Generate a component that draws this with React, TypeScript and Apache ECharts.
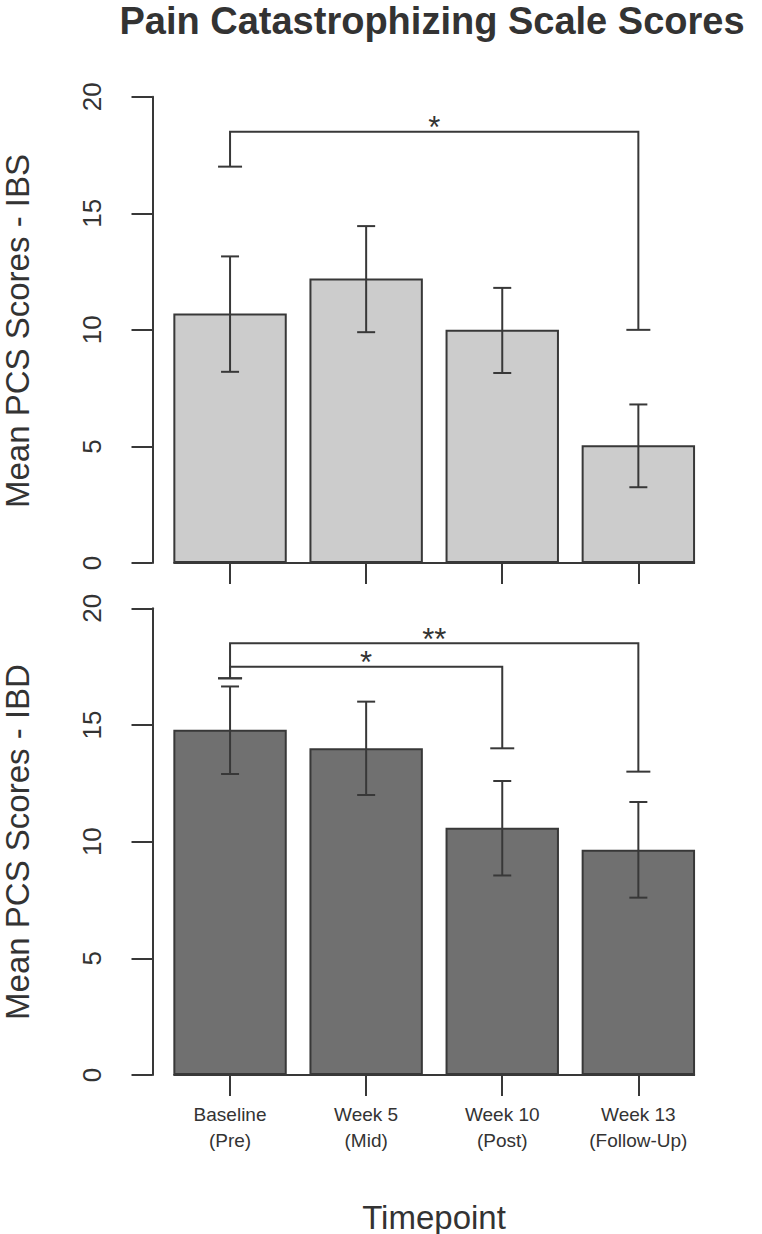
import React, { useEffect, useRef } from 'react';
import * as echarts from 'echarts';

// ---------- data ----------
const categories = ['Baseline\n(Pre)', 'Week 5\n(Mid)', 'Week 10\n(Post)', 'Week 13\n(Follow-Up)'];
const yTicks = [0, 5, 10, 15, 20];

const ibsMeans = [10.7, 12.2, 10.0, 5.05];
const ibsLower = [8.2, 9.9, 8.15, 3.25];
const ibsUpper = [13.15, 14.45, 11.8, 6.8];

const ibdMeans = [14.8, 14.0, 10.6, 9.65];
const ibdLower = [12.9, 12.0, 8.55, 7.6];
const ibdUpper = [16.65, 16.0, 12.6, 11.7];

// brackets: [fromIndex, toIndex, topValue, leftEndValue, rightEndValue]
const ibsBrackets = [[0, 3, 18.5, 17, 10]];
const ibsBracketLabels = ['*'];
const ibdBrackets = [
  [0, 3, 18.5, 17, 13],
  [0, 2, 17.5, 17, 14],
];
const ibdBracketLabels = ['**', '*'];

// ---------- styling ----------
const FONT = 'Liberation Sans, Arial, Helvetica, sans-serif';
const INK = '#383838';
const TEXT = '#333333';
const BAR_RATIO = 1 / 1.2;
const LW = 2;

function zeroLineSeries(idx: number) {
  return {
    type: 'custom',
    xAxisIndex: idx,
    yAxisIndex: idx,
    z: 1,
    silent: true,
    encode: { x: 0, y: 1 },
    data: [[0, 0]],
    renderItem: (_p: any, api: any) => {
      const band = api.size([1, 0])[0];
      const half = (band * BAR_RATIO) / 2;
      const a = api.coord([0, 0]);
      const b = api.coord([categories.length - 1, 0]);
      return {
        type: 'line',
        shape: { x1: a[0] - half, y1: a[1], x2: b[0] + half, y2: b[1] },
        style: { stroke: INK, lineWidth: LW },
      };
    },
  };
}

function barSeries(idx: number, means: number[], fill: string) {
  return {
    type: 'bar',
    xAxisIndex: idx,
    yAxisIndex: idx,
    z: 2,
    barWidth: (BAR_RATIO * 100).toFixed(2) + '%',
    data: means,
    itemStyle: { color: fill, borderColor: INK, borderWidth: LW },
    silent: true,
  };
}

function errorSeries(idx: number, lo: number[], hi: number[]) {
  return {
    type: 'custom',
    xAxisIndex: idx,
    yAxisIndex: idx,
    z: 5,
    silent: true,
    encode: { x: 0, y: [1, 2] },
    data: lo.map((l, i) => [i, l, hi[i]]),
    renderItem: (_p: any, api: any) => {
      const i = api.value(0);
      const a = api.coord([i, api.value(1)]);
      const b = api.coord([i, api.value(2)]);
      const cap = 9;
      const style = { stroke: INK, lineWidth: LW };
      return {
        type: 'group',
        children: [
          { type: 'line', shape: { x1: a[0], y1: a[1], x2: b[0], y2: b[1] }, style },
          { type: 'line', shape: { x1: a[0] - cap, y1: a[1], x2: a[0] + cap, y2: a[1] }, style },
          { type: 'line', shape: { x1: b[0] - cap, y1: b[1], x2: b[0] + cap, y2: b[1] }, style },
        ],
      };
    },
  };
}

function bracketSeries(idx: number, brackets: number[][], labels: string[]) {
  return {
    type: 'custom',
    xAxisIndex: idx,
    yAxisIndex: idx,
    z: 6,
    silent: true,
    clip: false,
    encode: { x: 0, y: 2 },
    data: brackets,
    renderItem: (p: any, api: any) => {
      const f = api.value(0);
      const t = api.value(1);
      const top = api.value(2);
      const lEnd = api.value(3);
      const rEnd = api.value(4);
      const lt = api.coord([f, top]);
      const rt = api.coord([t, top]);
      const lb = api.coord([f, lEnd]);
      const rb = api.coord([t, rEnd]);
      const cap = 12;
      const style = { stroke: INK, lineWidth: LW, fill: 'none' };
      const label = labels[p.dataIndex];
      return {
        type: 'group',
        children: [
          {
            type: 'polyline',
            shape: { points: [[lb[0], lb[1]], [lt[0], lt[1]], [rt[0], rt[1]], [rb[0], rb[1]]] },
            style,
          },
          { type: 'line', shape: { x1: lb[0] - cap, y1: lb[1], x2: lb[0] + cap, y2: lb[1] }, style },
          { type: 'line', shape: { x1: rb[0] - cap, y1: rb[1], x2: rb[0] + cap, y2: rb[1] }, style },
          {
            type: 'text',
            x: (lt[0] + rt[0]) / 2,
            y: lt[1] - 4,
            style: {
              text: label,
              fill: TEXT,
              fontSize: 31,
              fontFamily: FONT,
              textAlign: 'center',
              align: 'center',
              textVerticalAlign: 'middle',
              verticalAlign: 'middle',
            },
          },
        ],
      };
    },
  };
}

function xAxis(idx: number, showLabels: boolean) {
  return {
    type: 'category',
    gridIndex: idx,
    data: categories,
    boundaryGap: true,
    axisLine: { show: false },
    axisTick: { show: true, alignWithLabel: true, length: 21, lineStyle: { color: INK, width: LW } },
    axisLabel: {
      show: showLabels,
      interval: 0,
      fontSize: 19,
      fontFamily: FONT,
      color: TEXT,
      lineHeight: 26,
      margin: 26,
    },
    splitLine: { show: false },
  };
}

function yAxis(idx: number) {
  return {
    type: 'value',
    gridIndex: idx,
    min: yTicks[0],
    max: yTicks[yTicks.length - 1],
    interval: yTicks[1] - yTicks[0],
    offset: 9.5,
    axisLine: { show: true, lineStyle: { color: INK, width: LW } },
    axisTick: { show: true, length: 21, lineStyle: { color: INK, width: LW } },
    axisLabel: {
      rotate: 90,
      fontSize: 26,
      fontFamily: FONT,
      color: TEXT,
      margin: 48,
    },
    splitLine: { show: false },
  };
}

export default function App() {
  const ref = useRef<HTMLDivElement>(null);
  useEffect(() => {
    document.body.style.margin = '0';
    const chart = echarts.init(ref.current!, null, { renderer: 'svg' });
    const option: any = {
      animation: false,
      backgroundColor: '#ffffff',
      grid: [
        { left: 162, top: 96.7, width: 544.4, height: 466.3 },
        { left: 162, top: 608.3, width: 544.4, height: 466.7 },
      ],
      xAxis: [xAxis(0, false), xAxis(1, true)],
      yAxis: [yAxis(0), yAxis(1)],
      series: [
        zeroLineSeries(0),
        barSeries(0, ibsMeans, '#cccccc'),
        errorSeries(0, ibsLower, ibsUpper),
        bracketSeries(0, ibsBrackets, ibsBracketLabels),
        zeroLineSeries(1),
        barSeries(1, ibdMeans, '#707070'),
        errorSeries(1, ibdLower, ibdUpper),
        bracketSeries(1, ibdBrackets, ibdBracketLabels),
      ],
      graphic: [
        {
          type: 'text',
          x: 432,
          y: 21,
          style: {
            text: 'Pain Catastrophizing Scale Scores',
            fontSize: 38,
            fontWeight: 'bold',
            fontFamily: FONT,
            fill: TEXT,
            textAlign: 'center',
            textVerticalAlign: 'middle',
          },
        },
        {
          type: 'text',
          x: 17,
          y: 331,
          rotation: Math.PI / 2,
          style: {
            text: 'Mean PCS Scores - IBS',
            fontSize: 33,
            fontFamily: FONT,
            fill: TEXT,
            textAlign: 'center',
            textVerticalAlign: 'middle',
          },
        },
        {
          type: 'text',
          x: 17,
          y: 842,
          rotation: Math.PI / 2,
          style: {
            text: 'Mean PCS Scores - IBD',
            fontSize: 33,
            fontFamily: FONT,
            fill: TEXT,
            textAlign: 'center',
            textVerticalAlign: 'middle',
          },
        },
        {
          type: 'text',
          x: 434,
          y: 1217,
          style: {
            text: 'Timepoint',
            fontSize: 33,
            fontFamily: FONT,
            fill: TEXT,
            textAlign: 'center',
            textVerticalAlign: 'middle',
          },
        },
      ],
    };
    chart.setOption(option);
    return () => chart.dispose();
  }, []);
  return <div ref={ref} style={{ width: 762, height: 1234 }} />;
}
